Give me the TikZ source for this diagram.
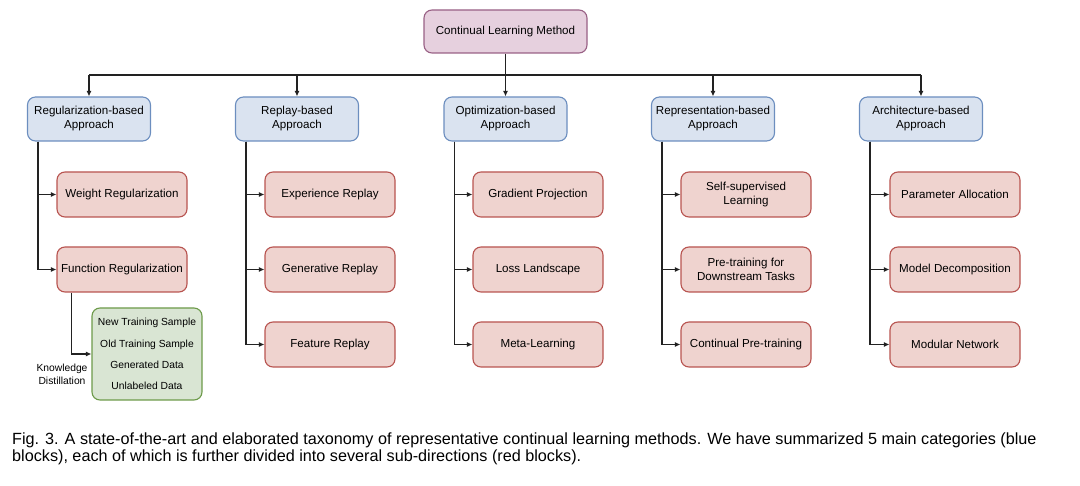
\documentclass[tikz,border=0pt]{standalone}
\usepackage{fontspec}
\setmainfont{Liberation Sans}
\usetikzlibrary{arrows.meta,calc}
\definecolor{rootfill}{HTML}{E6D0DE}
\definecolor{rootdraw}{HTML}{996185}
\definecolor{bluefill}{HTML}{DAE3F0}
\definecolor{bluedraw}{HTML}{6C8EBF}
\definecolor{redfill}{HTML}{EFD3CF}
\definecolor{reddraw}{HTML}{B85450}
\definecolor{greenfill}{HTML}{D9E5D3}
\definecolor{greendraw}{HTML}{6D9A4A}
\definecolor{linecol}{HTML}{222222}
\tikzset{
  boxbase/.style={rounded corners=8pt, line width=1.1pt, inner sep=0pt, align=center,
    font=\fontsize{11.6}{14}\selectfont},
  rootbox/.style={boxbase, fill=rootfill, draw=rootdraw, minimum width=163pt, minimum height=43pt},
  bluebox/.style={boxbase, fill=bluefill, draw=bluedraw, minimum width=123pt, minimum height=44pt},
  redbox/.style={boxbase, fill=redfill, draw=reddraw, minimum width=130pt, minimum height=45pt},
  greenbox/.style={boxbase, fill=greenfill, draw=greendraw, minimum width=110pt, minimum height=92pt,
    font=\fontsize{10.3}{21.3}\selectfont},
  conn/.style={draw=linecol, line width=1.1pt},
  arr/.style={conn, -{Latex[length=5.5pt,width=5pt]}},
  smalllabel/.style={align=center, inner sep=0pt, font=\fontsize{10.3}{13}\selectfont},
  captext/.style={anchor=base west, inner sep=0pt, font=\fontsize{16.2}{17}\selectfont}
}
\begin{document}
\begin{tikzpicture}[x=1pt,y=-1pt]
\useasboundingbox (0,0) rectangle (1080,486);
% root
\node[rootbox] (root) at (505.5,31.5) {Continual Learning Method};
% blue
\node[bluebox] (b1) at (89,119) {Regularization-based\\Approach};
\node[bluebox] (b2) at (297,119) {Replay-based\\Approach};
\node[bluebox] (b3) at (505.5,119) {Optimization-based\\Approach};
\node[bluebox] (b4) at (713,119) {Representation-based\\Approach};
\node[bluebox] (b5) at (921,119) {Architecture-based\\Approach};
% red
\node[redbox] (r11) at (122,194.5) {Weight Regularization};
\node[redbox] (r12) at (122,269.5) {Function Regularization};
\node[redbox] (r21) at (330,194.5) {Experience Replay};
\node[redbox] (r22) at (330,269.5) {Generative Replay};
\node[redbox] (r23) at (330,344.5) {Feature Replay};
\node[redbox] (r31) at (538,194.5) {Gradient Projection};
\node[redbox] (r32) at (538,269.5) {Loss Landscape};
\node[redbox] (r33) at (538,344.5) {Meta-Learning};
\node[redbox] (r41) at (746,194.5) {Self-supervised\\Learning};
\node[redbox] (r42) at (746,269.5) {Pre-training for\\Downstream Tasks};
\node[redbox] (r43) at (746,344.5) {Continual Pre-training};
\node[redbox] (r51) at (955,194.5) {Parameter Allocation};
\node[redbox] (r52) at (955,269.5) {Model Decomposition};
\node[redbox] (r53) at (955,344.5) {Modular Network};
% green
\node[greenbox] (g) at (147,354) {New Training Sample\\Old Training Sample\\Generated Data\\Unlabeled Data};
\node[smalllabel] (kd) at (62,374) {Knowledge\\Distillation};
% bus
\coordinate (bus) at (505.5,75);
\draw[conn] (b1.north |- bus) -- (b5.north |- bus);
\draw[arr] (root.south) -- (b3.north);
\draw[arr] (b1.north |- bus) -- (b1.north);
\draw[arr] (b2.north |- bus) -- (b2.north);
\draw[arr] (b4.north |- bus) -- (b4.north);
\draw[arr] (b5.north |- bus) -- (b5.north);
% branches
\foreach \b/\list in {b1/{r11,r12}, b2/{r21,r22,r23}, b3/{r31,r32,r33}, b4/{r41,r42,r43}, b5/{r51,r52,r53}}{
  \foreach \r in \list {
    \draw[arr] ($(\b.south west)+(11,0)$) |- (\r.west);
  }
}
\draw[arr] ($(r12.south west)+(15,0)$) |- (g.west);
% caption
\node[captext] (cap1) at (12,444.5) {Fig. 3. A state-of-the-art and elaborated taxonomy of representative continual learning methods. We have summarized 5 main categories (blue};
\node[captext] (cap2) at (12,461.5) {blocks), each of which is further divided into several sub-directions (red blocks).};
\end{tikzpicture}
\end{document}
